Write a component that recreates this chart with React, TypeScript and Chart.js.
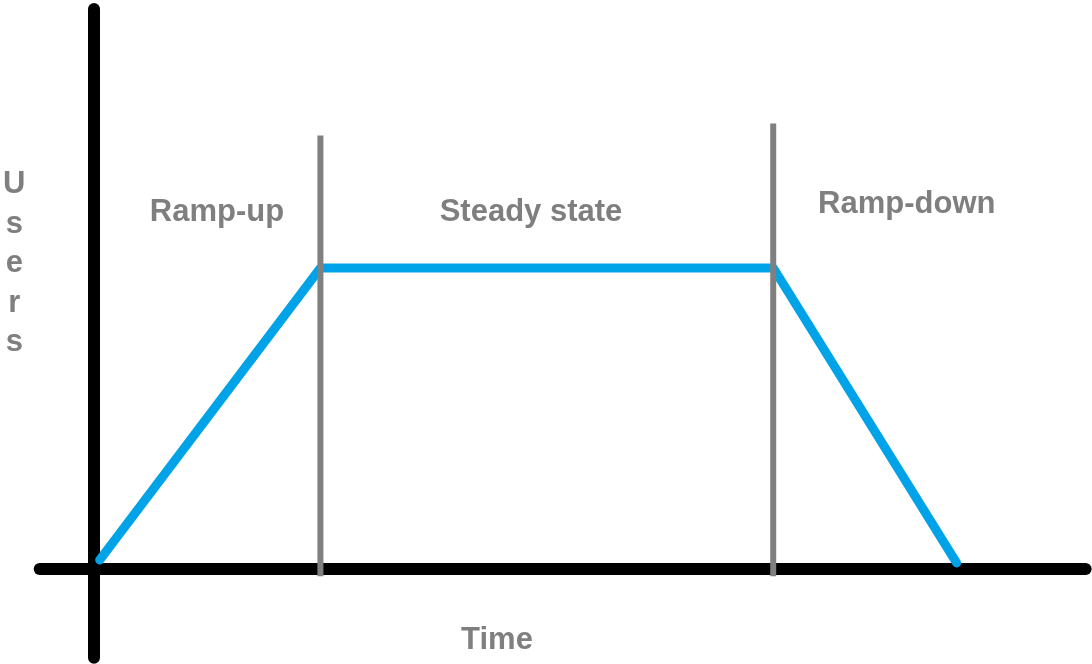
import React, { useEffect, useRef } from "react";
import { Chart, registerables } from "chart.js";

Chart.register(...registerables);

// Load profile (time in arbitrary minutes, users in arbitrary units)
const profileTime = [0.25, 10, 30, 38.1];
const profileUsers = [3, 100, 100, 2];

// Phase boundaries (vertical gray markers)
const phaseBoundaries = [10, 30];
const boundaryTop = [144, 148];
const boundaryBottom = -2.4;

// Axis extents
const xAxisRange = [-2.4, 43.8];
const yAxisRange = [-29.5, 186];

// Scale ranges
const xMin = -4.152;
const xMax = 44.08;
const yMin = -31.56;
const yMax = 189.0;

// Phase labels
const phaseLabels = ["Ramp-up", "Steady state", "Ramp-down"];
const phaseLabelX = [5.43, 19.3, 35.9];
const phaseLabelY = [118.3, 118.3, 121];

// Axis titles
const xTitle = "Time";
const xTitlePos = [17.8, -23.9];
const yTitle = "Users";
const yTitlePos = [-3.52, 127.6];
const yTitleStep = 13.1;

const TEXT_COLOR = "#7f7f7f";
const FONT = "bold 31px 'Liberation Sans', Arial, sans-serif";

const labelPlugin = {
  id: "phaseLabels",
  afterDatasetsDraw(chart: any) {
    const { ctx } = chart;
    const xs = chart.scales.x;
    const ys = chart.scales.y;
    ctx.save();
    ctx.fillStyle = TEXT_COLOR;
    ctx.font = FONT;
    ctx.textAlign = "center";
    ctx.textBaseline = "middle";
    phaseLabels.forEach((t, i) => {
      ctx.fillText(t, xs.getPixelForValue(phaseLabelX[i]), ys.getPixelForValue(phaseLabelY[i]));
    });
    ctx.fillText(xTitle, xs.getPixelForValue(xTitlePos[0]), ys.getPixelForValue(xTitlePos[1]));
    yTitle.split("").forEach((ch, i) => {
      ctx.fillText(
        ch,
        xs.getPixelForValue(yTitlePos[0]),
        ys.getPixelForValue(yTitlePos[1] - i * yTitleStep)
      );
    });
    ctx.restore();
  },
};

export default function App() {
  const ref = useRef<HTMLCanvasElement>(null);
  useEffect(() => {
    if (!ref.current) return;
    const line = (data: any[], color: string, width: number, order: number, cap: string) => ({
      data,
      showLine: true,
      borderColor: color,
      backgroundColor: color,
      borderWidth: width,
      pointRadius: 0,
      pointHoverRadius: 0,
      borderCapStyle: cap,
      borderJoinStyle: "round",
      fill: false,
      tension: 0,
      order,
    });
    const datasets: any[] = [
      line([{ x: 0, y: yAxisRange[0] }, { x: 0, y: yAxisRange[1] }], "#000000", 12, 3, "round"),
      line([{ x: xAxisRange[0], y: 0 }, { x: xAxisRange[1], y: 0 }], "#000000", 12, 3, "round"),
      line(profileTime.map((t, i) => ({ x: t, y: profileUsers[i] })), "#00a2e8", 9, 2, "round"),
      ...phaseBoundaries.map((b, i) =>
        line([{ x: b, y: boundaryBottom }, { x: b, y: boundaryTop[i] }], "#808080", 6, 1, "butt")
      ),
    ];
    const chart = new Chart(ref.current, {
      type: "scatter",
      data: { datasets },
      options: {
        animation: false,
        responsive: false,
        devicePixelRatio: 1,
        layout: { padding: 0 },
        plugins: { legend: { display: false }, tooltip: { enabled: false } },
        scales: {
          x: { type: "linear", display: false, min: xMin, max: xMax },
          y: { type: "linear", display: false, min: yMin, max: yMax },
        },
      } as any,
      plugins: [labelPlugin],
    });
    return () => chart.destroy();
  }, []);
  return (
    <div style={{ position: "fixed", left: 0, top: 0, width: 1092, height: 664, background: "#fff" }}>
      <canvas ref={ref} width={1092} height={664} style={{ display: "block" }} />
    </div>
  );
}
